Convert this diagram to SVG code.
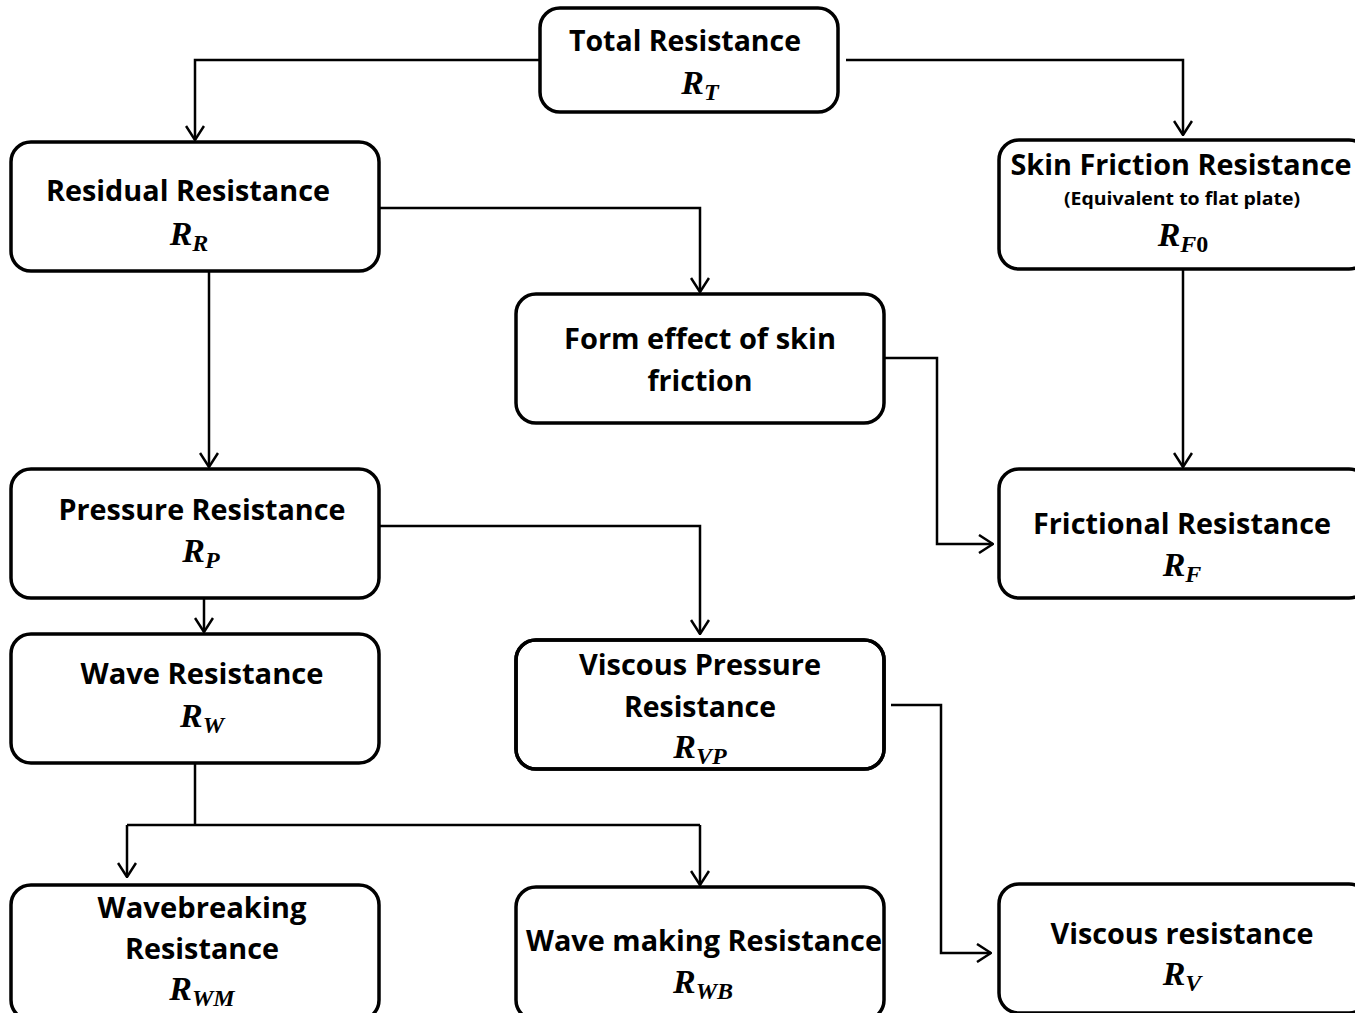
<svg xmlns="http://www.w3.org/2000/svg" width="1355" height="1013" viewBox="0 0 1355 1013">
<style>
.box{fill:#fff;stroke:#000;stroke-width:3.5}
.t{font-family:"Open Sans","Noto Sans",sans-serif;font-weight:bold;font-size:29px;fill:#000;text-anchor:middle}
.s{font-family:"Open Sans","Noto Sans",sans-serif;font-weight:bold;font-size:17px;fill:#000;text-anchor:middle}
.m{font-family:"Liberation Serif",serif;font-weight:bold;font-style:italic;font-size:34px;fill:#000;text-anchor:middle}
.sub{font-size:24px}
.up{font-style:normal}
.c{fill:none;stroke:#000;stroke-width:2.5}
</style>
<defs>
<marker id="a" markerUnits="userSpaceOnUse" viewBox="0 0 16 20" refX="15" refY="10" markerWidth="16" markerHeight="20" orient="auto">
<path d="M1,1 L15,10 L1,19" fill="none" stroke="#000" stroke-width="2.5"/>
</marker>
</defs>
<rect width="1355" height="1013" fill="#fff"/>
<g id="connectors">
<path class="c" d="M540,60 H195 V140" marker-end="url(#a)"/>
<path class="c" d="M846,60 H1183 V135" marker-end="url(#a)"/>
<path class="c" d="M379,208 H700 V292" marker-end="url(#a)"/>
<path class="c" d="M209,271 V467" marker-end="url(#a)"/>
<path class="c" d="M1183,269 V467" marker-end="url(#a)"/>
<path class="c" d="M884,358 H937 V544 H993" marker-end="url(#a)"/>
<path class="c" d="M379,526 H700 V634" marker-end="url(#a)"/>
<path class="c" d="M204,598 V632" marker-end="url(#a)"/>
<path class="c" d="M195,763 V825"/>
<path class="c" d="M127,825 H700"/>
<path class="c" d="M127,825 V877" marker-end="url(#a)"/>
<path class="c" d="M700,825 V885" marker-end="url(#a)"/>
<path class="c" d="M891,705 H941 V953 H991" marker-end="url(#a)"/>
</g>
<g id="total">
<rect class="box" x="540" y="8" width="298" height="104" rx="20"/>
<text class="t" x="685" y="51" textLength="232" lengthAdjust="spacingAndGlyphs">Total Resistance</text>
<text class="m" x="700" y="94">R<tspan class="sub" dy="6">T</tspan></text>
</g>
<g id="residual">
<rect class="box" x="11" y="142" width="368" height="129" rx="20"/>
<text class="t" x="188" y="201" textLength="284" lengthAdjust="spacingAndGlyphs">Residual Resistance</text>
<text class="m" x="189" y="245">R<tspan class="sub" dy="6">R</tspan></text>
</g>
<g id="skin">
<rect class="box" x="999" y="140" width="370" height="129" rx="20"/>
<text class="t" x="1181" y="175" textLength="341" lengthAdjust="spacingAndGlyphs">Skin Friction Resistance</text>
<text class="s" x="1182" y="205" textLength="236" lengthAdjust="spacingAndGlyphs">(Equivalent to flat plate)</text>
<text class="m" x="1183" y="246">R<tspan class="sub" dy="6">F<tspan class="up">0</tspan></tspan></text>
</g>
<g id="form">
<rect class="box" x="516" y="294" width="368" height="129" rx="20"/>
<text class="t" x="700" y="349" textLength="272" lengthAdjust="spacingAndGlyphs">Form effect of skin</text>
<text class="t" x="700" y="391" textLength="105" lengthAdjust="spacingAndGlyphs">friction</text>
</g>
<g id="pressure">
<rect class="box" x="11" y="469" width="368" height="129" rx="20"/>
<text class="t" x="202" y="520" textLength="287" lengthAdjust="spacingAndGlyphs">Pressure Resistance</text>
<text class="m" x="201" y="562">R<tspan class="sub" dy="6">P</tspan></text>
</g>
<g id="frictional">
<rect class="box" x="999" y="469" width="370" height="129" rx="20"/>
<text class="t" x="1182" y="534" textLength="298" lengthAdjust="spacingAndGlyphs">Frictional Resistance</text>
<text class="m" x="1182" y="576">R<tspan class="sub" dy="6">F</tspan></text>
</g>
<g id="wave">
<rect class="box" x="11" y="634" width="368" height="129" rx="20"/>
<text class="t" x="202" y="684" textLength="243" lengthAdjust="spacingAndGlyphs">Wave Resistance</text>
<text class="m" x="202" y="727">R<tspan class="sub" dy="6">W</tspan></text>
</g>
<g id="viscous-pressure">
<rect class="box" x="516" y="640" width="368" height="129" rx="20"/>
<text class="t" x="700" y="675" textLength="242" lengthAdjust="spacingAndGlyphs">Viscous Pressure</text>
<text class="t" x="700" y="717" textLength="152" lengthAdjust="spacingAndGlyphs">Resistance</text>
<text class="m" x="700" y="758">R<tspan class="sub" dy="6">VP</tspan></text>
<rect x="516" y="640" width="368" height="129" rx="20" fill="none" stroke="#000" stroke-width="3.5"/>
</g>
<g id="wavebreaking">
<rect class="box" x="11" y="885" width="368" height="135" rx="20"/>
<text class="t" x="202" y="918" textLength="209" lengthAdjust="spacingAndGlyphs">Wavebreaking</text>
<text class="t" x="202" y="959" textLength="154" lengthAdjust="spacingAndGlyphs">Resistance</text>
<text class="m" x="202" y="1000">R<tspan class="sub" dy="6">WM</tspan></text>
</g>
<g id="wavemaking">
<rect class="box" x="516" y="887" width="368" height="133" rx="20"/>
<text class="t" x="704" y="951" textLength="356" lengthAdjust="spacingAndGlyphs">Wave making Resistance</text>
<text class="m" x="703" y="993">R<tspan class="sub" dy="6">WB</tspan></text>
</g>
<g id="viscous">
<rect class="box" x="999" y="884" width="370" height="129" rx="20"/>
<text class="t" x="1182" y="944" textLength="263" lengthAdjust="spacingAndGlyphs">Viscous resistance</text>
<text class="m" x="1182" y="985">R<tspan class="sub" dy="6">V</tspan></text>
</g>
</svg>
